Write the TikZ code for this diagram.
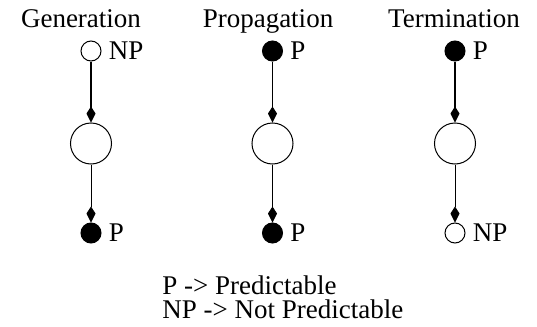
\documentclass[tikz,border=0pt]{standalone}
\usepackage{fontspec}
\setmainfont{Liberation Serif}
\usetikzlibrary{arrows.meta}

\begin{document}
\begin{tikzpicture}[x=0.5pt,y=-0.5pt,
    >={Kite[length=8pt,width=4.5pt,inset=3.5pt]},
    every node/.style={font=\fontsize{13.5}{16}\selectfont},
    dot/.style={circle,draw,line width=0.5pt,minimum size=10pt,inner sep=0pt},
    open/.style={dot,fill=white},
    full/.style={dot,fill=black},
    stage/.style={circle,draw,line width=0.5pt,minimum size=20.5pt,inner sep=0pt},
    tag/.style={anchor=west,inner sep=0pt,xshift=3.5pt},
    title/.style={anchor=base}
    ]
            \useasboundingbox (0,0) rectangle (537,327);

            % titles
            \node[title] (gen)  at (81,27)  {Generation};
            \node[title] (prop) at (268,27) {Propagation};
            \node[title] (term) at (454,27) {Termination};

            % generation
            \node[open]  (g1) at (91,51)    {};
            \node[stage] (g2) at (91,143.5) {};
            \node[full]  (g3) at (91,233)   {};
            % propagation
            \node[full]  (p1) at (272.5,51)    {};
            \node[stage] (p2) at (272.5,143.5) {};
            \node[full]  (p3) at (272.5,233)   {};
            % termination
            \node[full]  (t1) at (455,51)    {};
            \node[stage] (t2) at (455,143.5) {};
            \node[open]  (t3) at (455,233)   {};

            \foreach \c in {g,p,t}
                {\path (\c1) edge[->,line width=0.55pt] (\c2)
                       (\c2) edge[->] (\c3);}

            \node[tag] at (g1.east) {NP};
            \node[tag] at (g3.east) {P};
            \node[tag] at (p1.east) {P};
            \node[tag] at (p3.east) {P};
            \node[tag] at (t1.east) {P};
            \node[tag] at (t3.east) {NP};

            % legend
            \node[anchor=base west,inner sep=0pt,text depth=0pt] (key1) at (162,294) {P -> Predictable};
            \node[anchor=base west,inner sep=0pt] (key2) at (162,318) {NP -> Not Predictable};
\end{tikzpicture}
\end{document}
